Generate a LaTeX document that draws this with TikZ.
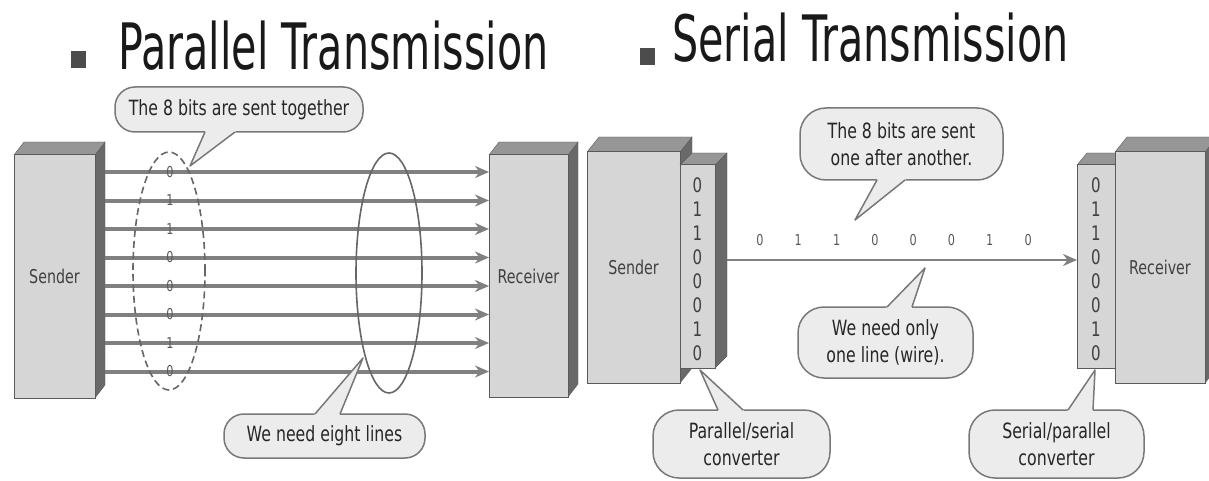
\documentclass[tikz,border=0pt]{standalone}
\usepackage{fontspec}
\setmainfont[FakeStretch=0.75]{DejaVu Sans}
\newfontfamily\titlefont[FakeStretch=0.645]{DejaVu Sans}
\usetikzlibrary{arrows.meta,calc,shapes.geometric}

\definecolor{boxfront}{RGB}{214,214,214}
\definecolor{boxtop}{RGB}{150,150,150}
\definecolor{boxside}{RGB}{105,105,105}
\definecolor{edgegray}{RGB}{90,90,90}
\definecolor{wiregray}{RGB}{128,128,128}
\definecolor{bubfill}{RGB}{236,236,236}
\definecolor{bubedge}{RGB}{120,120,120}

\tikzset{
  title/.style={font=\titlefont\fontsize{64}{64}\selectfont, anchor=base west, inner sep=0, text=black!90},
  bullet/.style={fill=black!70, minimum width=15pt, minimum height=17pt, inner sep=0},
  front/.style={draw=edgegray, fill=boxfront, line width=1pt, inner sep=0, outer sep=0,
    font=\fontsize{19}{19}\selectfont, text=black!75},
  bubble/.style={draw=bubedge, fill=bubfill, line width=1.5pt, rounded corners=20pt, inner sep=0,
    outer sep=0, align=center, font=\fontsize{21}{27}\selectfont, text=black!85},
  bit/.style={font=\fontsize{20}{20}\selectfont, text=black!75, inner sep=0},
  smallbit/.style={font=\fontsize{15}{15}\selectfont, text=black!65, inner sep=0},
  wire/.style={draw=wiregray, line width=4pt, -{Stealth[length=14pt,width=12pt]}},
  serwire/.style={draw=wiregray, line width=2.5pt, -{Stealth[length=14pt,width=12pt]}},
  group/.style={draw=black!60, ellipse, line width=1.6pt, inner sep=0},
}

% side and top faces behind a front node: node, dx, dy
\newcommand{\faces}[3]{%
  \filldraw[fill=boxside, draw=edgegray] (#1.north east) -- ++(#2,-#3) -- ($(#1.south east)+(#2,-#3)$) -- (#1.south east) -- cycle;
  \filldraw[fill=boxtop, draw=edgegray] (#1.north west) -- ++(#2,-#3) -- ($(#1.north east)+(#2,-#3)$) -- (#1.north east) -- cycle;
}
% tail of a bubble: base left, base right, tip
\newcommand{\tailto}[3]{%
  \fill[bubfill] ($(#1)!-2pt!(#3)$) -- (#3) -- ($(#2)!-2pt!(#3)$) -- cycle;
  \draw[bubedge, line width=1.5pt, line join=round] (#1) -- (#3) -- (#2);
}

\begin{document}
\begin{tikzpicture}[x=1pt,y=-1pt]
\useasboundingbox (0,0) rectangle (1209,481);

% titles
\node[bullet] (pbul) at (78,60) {};
\node[title] (ptitle) at (118,70) {Parallel Transmission};
\node[bullet] (sbul) at (647,57) {};
\node[title] (stitle) at (672,62) {Serial Transmission};

%%% parallel
\node[front, minimum width=81pt, minimum height=243pt] (psend) at (54.5,276.5) {};
\faces{psend}{10}{13}
\node[front, minimum width=81pt, minimum height=243pt] at (psend) {Sender};
\node[front, minimum width=79pt, minimum height=242pt] (precv) at (528.5,276) {};
\faces{precv}{10}{13}
\node[front, minimum width=79pt, minimum height=242pt] at (precv) {Receiver};

\foreach \b [count=\i from 0] in {0,1,1,0,0,0,1,0} {
  \pgfmathsetmacro\y{172+28.5*\i}
  \draw[wire] ([xshift=10pt]psend.east |- 0,\y) -- (precv.west |- 0,\y);
  \node[smallbit] (pb\i) at (170,\y) {\b};
}
\node[group, dashed, dash pattern=on 7pt off 4pt, minimum width=72pt, minimum height=238pt] (grp1) at (169,271) {};
\node[group, minimum width=66pt, minimum height=240pt] (grp2) at (389,273) {};

\node[bubble, minimum width=248pt, minimum height=45pt] (b1) at (239,109.5) {The 8 bits are sent together};
\coordinate (b1l) at ([xshift=-34pt]b1.south);
\coordinate (b1r) at ([xshift=-4pt]b1.south);
\coordinate (t1) at (190,166);
\tailto{b1l}{b1r}{t1}

\node[bubble, minimum width=201pt, minimum height=44pt] (b2) at (324.5,436) {We need eight lines};
\coordinate (b2l) at ([xshift=-9.5pt]b2.north);
\coordinate (b2r) at ([xshift=15.5pt]b2.north);
\coordinate (t2) at (363,358);
\tailto{b2l}{b2r}{t2}

%%% serial
\node[front, minimum width=93pt, minimum height=231pt] (ssend) at (633.5,267.5) {};
\faces{ssend}{12}{15}
\node[front, minimum width=93pt, minimum height=231pt] at (ssend) {Sender};
\node[front, minimum width=35pt, minimum height=203pt] (pconv) at (697.5,266.5) {};
\faces{pconv}{12}{12}
\node[front, minimum width=35pt, minimum height=203pt] at (pconv) {};

\node[front, minimum width=38pt, minimum height=203pt] (rconv) at (1096,266.5) {};
\faces{rconv}{10}{12}
\node[front, minimum width=38pt, minimum height=203pt] at (rconv) {};
\node[front, minimum width=90pt, minimum height=231pt] (srecv) at (1160,267.5) {};
\faces{srecv}{12}{15}
\node[front, minimum width=90pt, minimum height=231pt] at (srecv) {Receiver};

\foreach \b [count=\i from 0] in {0,1,1,0,0,0,1,0} {
  \pgfmathsetmacro\y{185+24*\i}
  \node[bit] (cb\i) at (pconv.center |- 0,\y) {\b};
  \node[bit] (rb\i) at (rconv.center |- 0,\y) {\b};
  \node[smallbit] (lb\i) at ({760+38.3*\i},240) {\b};
}
\draw[serwire] ([xshift=12pt]pconv.east |- 0,260) -- (rconv.west |- 0,260);

\node[bubble, minimum width=203pt, minimum height=72pt, rounded corners=26pt] (b3) at (901.5,144) {The 8 bits are sent\\one after another.};
\coordinate (b3l) at ([xshift=-24.5pt]b3.south);
\coordinate (b3r) at ([xshift=3.5pt]b3.south);
\coordinate (t3) at (855,220);
\tailto{b3l}{b3r}{t3}

\node[bubble, minimum width=175pt, minimum height=71pt, rounded corners=26pt] (b4) at (885.5,342.5) {We need only\\one line (wire).};
\coordinate (b4l) at ([xshift=1.5pt]b4.north);
\coordinate (b4r) at ([xshift=26.5pt]b4.north);
\coordinate (t4) at (925,268);
\tailto{b4l}{b4r}{t4}

\node[bubble, minimum width=177pt, minimum height=68pt, rounded corners=26pt] (b5) at (741.5,444) {Parallel/serial\\converter};
\coordinate (b5l) at ([xshift=-23.5pt]b5.north);
\coordinate (b5r) at ([xshift=1.5pt]b5.north);
\coordinate (t5) at (700,370);
\tailto{b5l}{b5r}{t5}

\node[bubble, minimum width=175pt, minimum height=68pt, rounded corners=26pt] (b6) at (1056.5,444) {Serial/parallel\\converter};
\coordinate (b6l) at ([xshift=11.5pt]b6.north);
\coordinate (b6r) at ([xshift=36.5pt]b6.north);
\coordinate (t6) at (1095,370);
\tailto{b6l}{b6r}{t6}
\end{tikzpicture}
\end{document}
